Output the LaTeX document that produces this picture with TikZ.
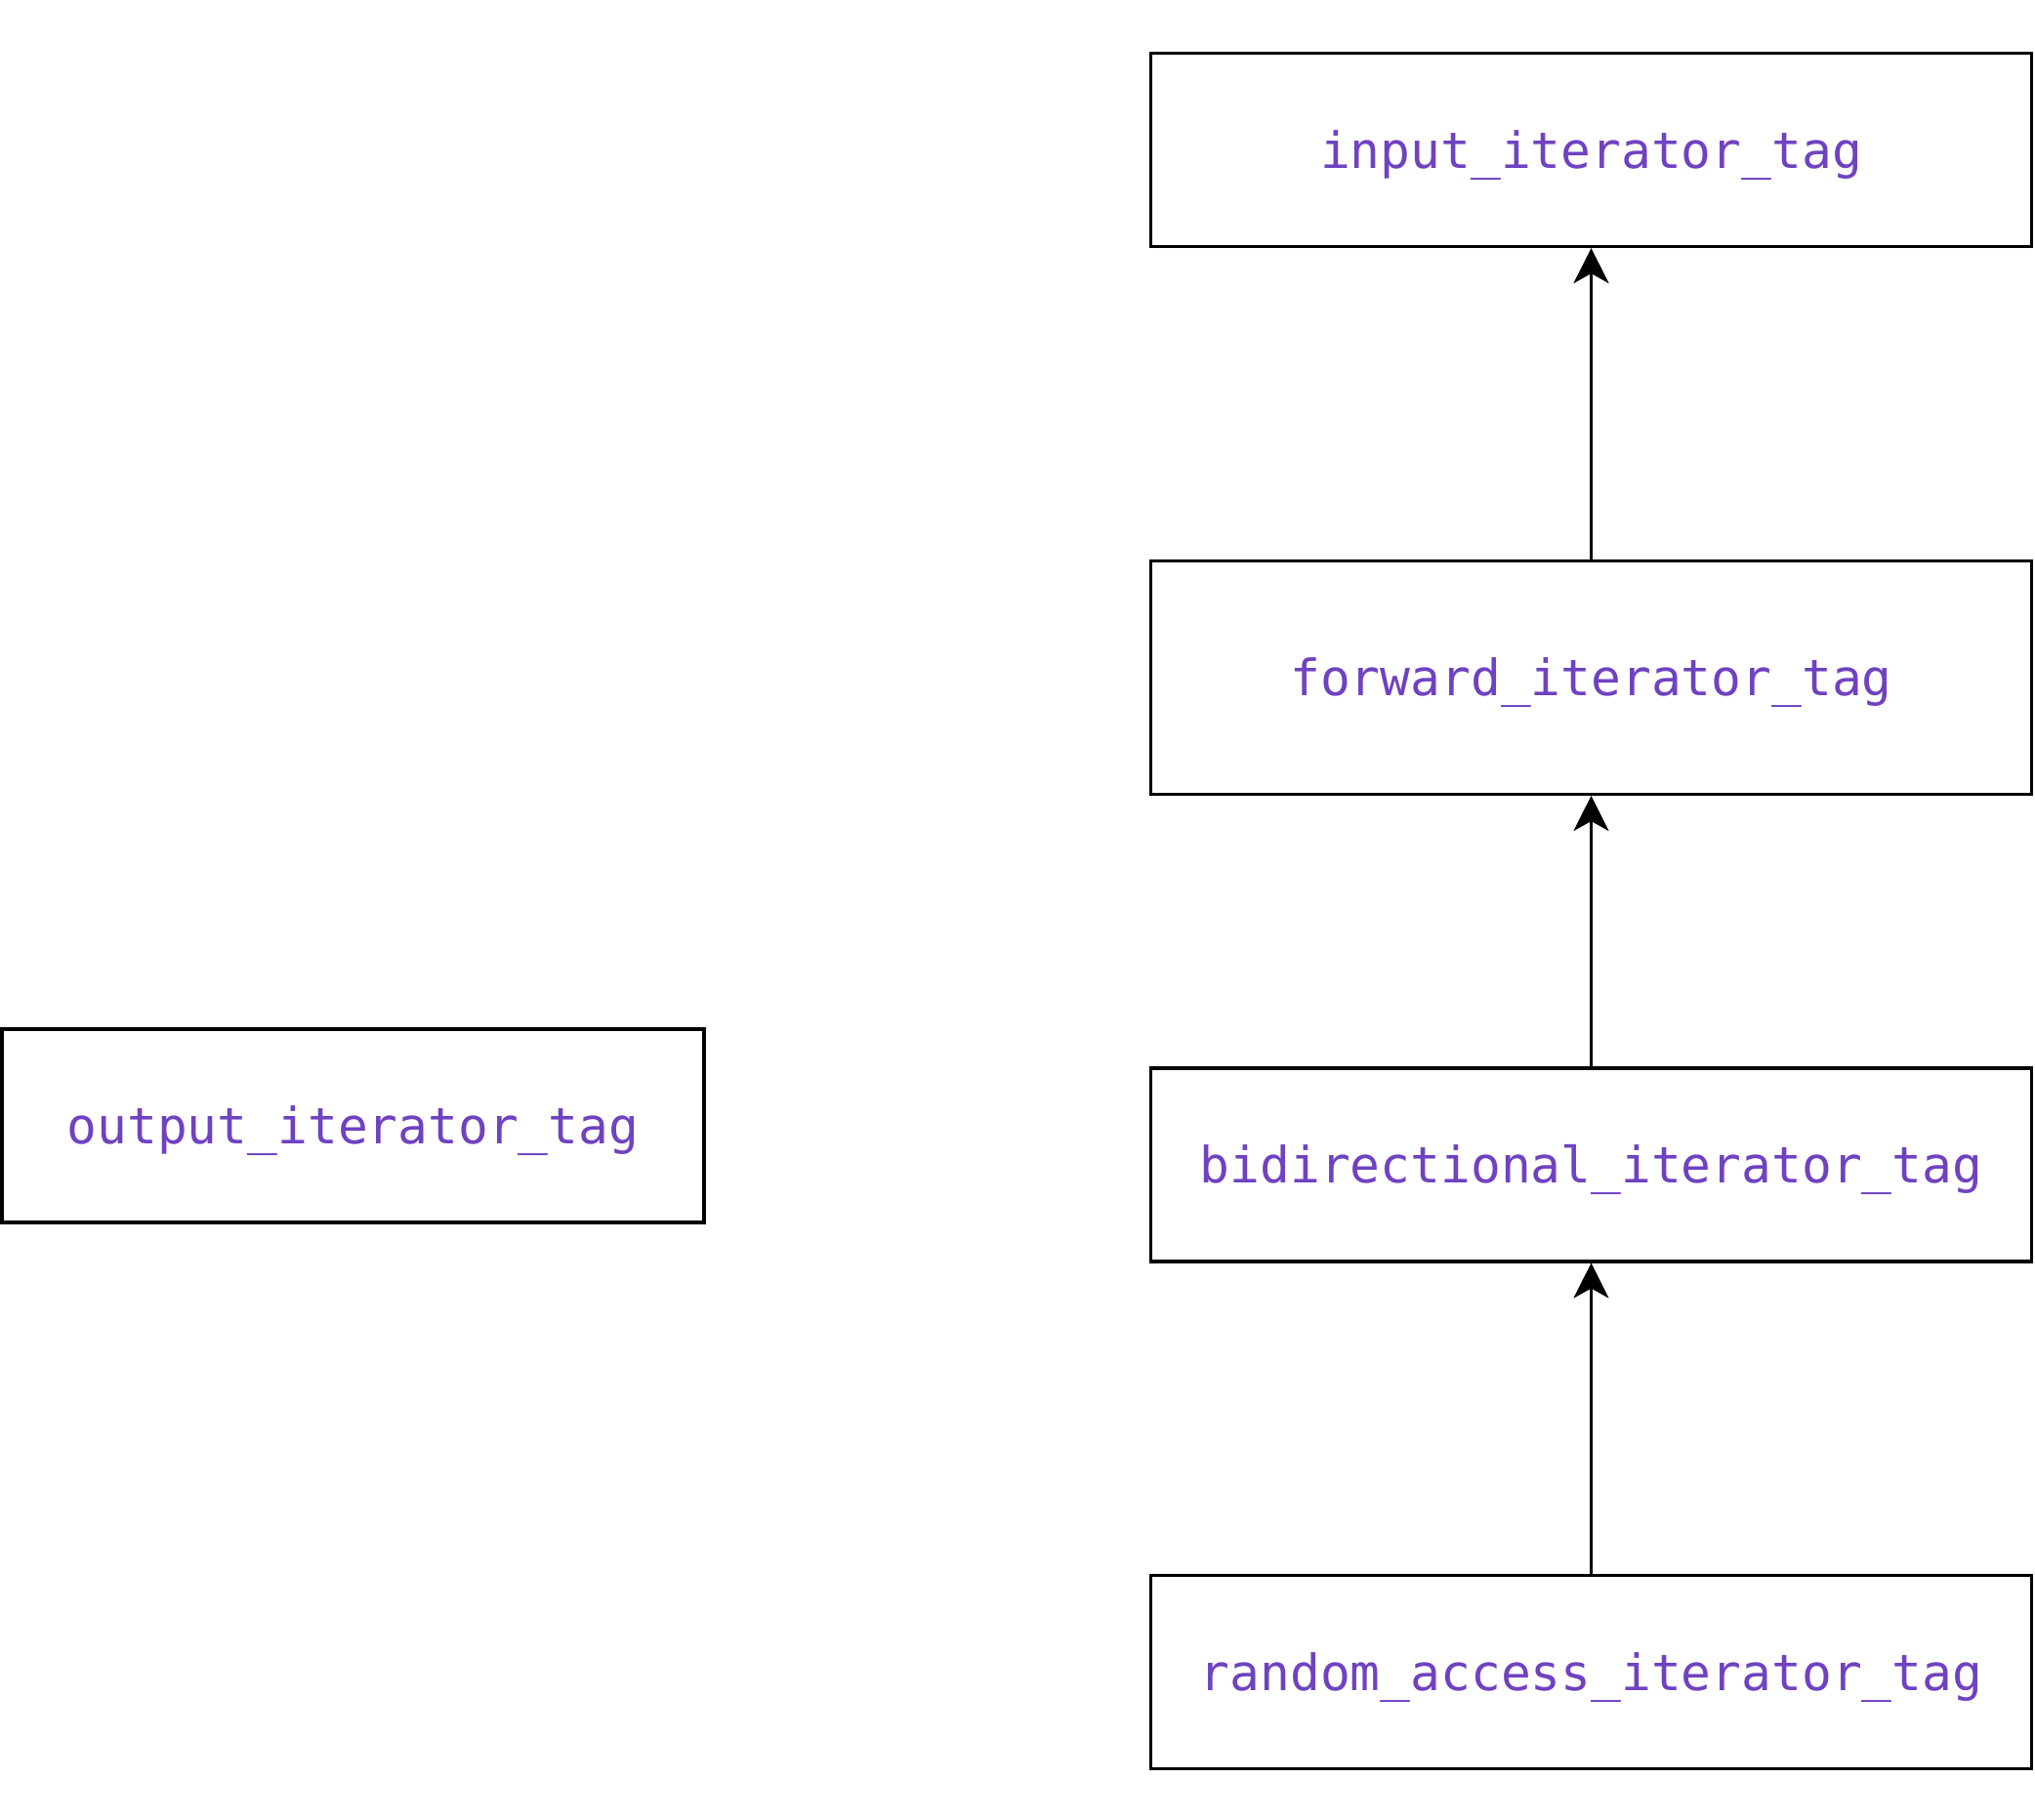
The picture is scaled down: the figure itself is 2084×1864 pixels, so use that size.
\documentclass[tikz,border=0pt]{standalone}
\usepackage{fontspec}
\newfontfamily\codefont{DejaVu Sans Mono}
\usetikzlibrary{arrows.meta}
\definecolor{tagpurple}{RGB}{111,66,193}
\tikzset{
  tagbox/.style={draw=black, line width=1.6pt, rectangle, minimum width=451pt, minimum height=99pt, inner sep=0pt,
    text height=24pt, text depth=5.4pt,
    font=\codefont\fontsize{25.6}{30}\selectfont, text=tagpurple},
  inherit/.style={draw=black, line width=1.6pt, -{Stealth[length=18pt, width=18pt, inset=5pt]}}
}
\begin{document}
\begin{tikzpicture}[x=0.5pt, y=-0.5pt]
\useasboundingbox (0,0) rectangle (2084,1864);
\node[tagbox] (input) at (1629.5,153.5) {input\_iterator\_tag};
\node[tagbox, minimum height=119.6pt] (forward) at (1629.5,693.8) {forward\_iterator\_tag};
\node[tagbox] (bidir) at (1629.5,1192.9) {bidirectional\_iterator\_tag};
\node[tagbox] (random) at (1629.5,1712.5) {random\_access\_iterator\_tag};
\node[tagbox, minimum width=359.5pt] (output) at (361.5,1153) {output\_iterator\_tag};
\draw[inherit] (forward.north) -- (input.south);
\draw[inherit] (bidir.north) -- (forward.south);
\draw[inherit] (random.north) -- (bidir.south);
\end{tikzpicture}
\end{document}
